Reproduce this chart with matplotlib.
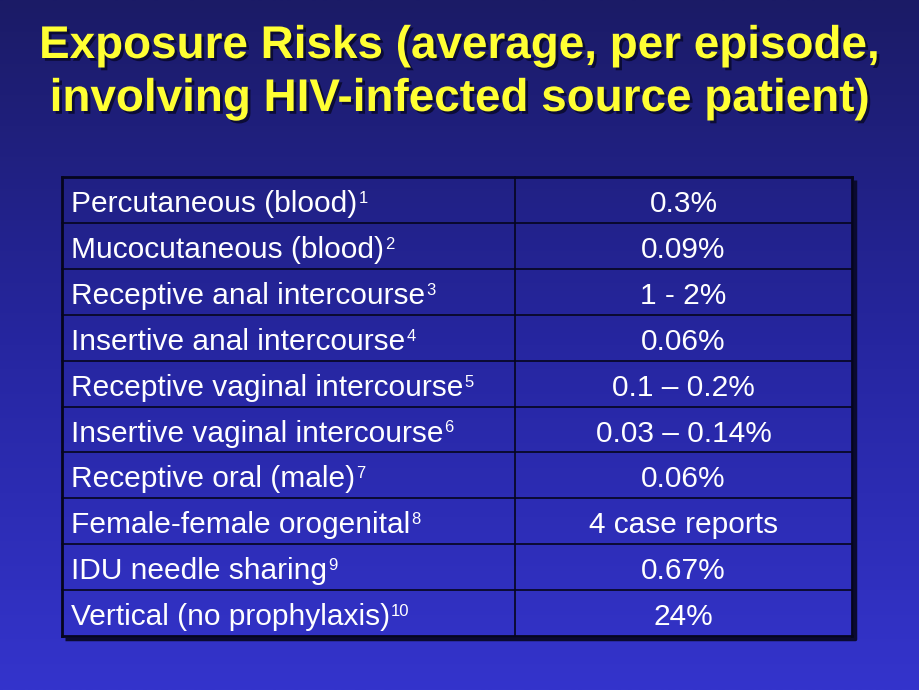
import matplotlib
matplotlib.use("Agg")
import matplotlib.pyplot as plt
import numpy as np
import matplotlib.patheffects as pe
from matplotlib.colors import LinearSegmentedColormap

title_lines = ["Exposure Risks (average, per episode,",
               "involving HIV-infected source patient)"]
exposures = ["Percutaneous (blood)", "Mucocutaneous (blood)", "Receptive anal intercourse",
             "Insertive anal intercourse", "Receptive vaginal intercourse",
             "Insertive vaginal intercourse", "Receptive oral (male)",
             "Female-female orogenital", "IDU needle sharing", "Vertical (no prophylaxis)"]
refs = ["1", "2", "3", "4", "5", "6", "7", "8", "9", "10"]
risks = ["0.3%", "0.09%", "1 - 2%", "0.06%", "0.1 \u2013 0.2%", "0.03 \u2013 0.14%",
         "0.06%", "4 case reports", "0.67%", "24%"]

W, H = 920, 690
fig = plt.figure(figsize=(W / 100, H / 100), dpi=100)
ax = fig.add_axes([0, 0, 1, 1])
ax.set_xlim(0, W)
ax.set_ylim(H, 0)
ax.axis("off")

cmap = LinearSegmentedColormap.from_list("bg", ["#1b1b66", "#2626a0", "#3434cc"])
grad = np.linspace(0, 1, 256).reshape(-1, 1)
ax.imshow(grad, cmap=cmap, extent=[0, W, H, 0], aspect="auto", zorder=0)

font = "Liberation Sans"
shadow = [pe.withSimplePatchShadow(offset=(2, -2), shadow_rgbFace="#0a0a30", alpha=0.9)]
for i, line in enumerate(title_lines):
    ax.text(460, 46 + i * 53, line, ha="center", va="center", fontsize=33,
            fontweight="bold", color="#ffff33", family=font, path_effects=shadow, zorder=5)

left, right, mid = 62, 852, 515
top, bottom = 177, 636
n = len(exposures)
rh = (bottom - top) / n

# table shadow
ax.plot([left + 3, right + 3, right + 3], [bottom + 3, bottom + 3, top + 3],
        color="#0a0a30", lw=2.5, zorder=2, solid_capstyle="butt")
# grid
for i in range(n + 1):
    y = top + i * rh
    lw = 2 if i in (0, n) else 1.2
    ax.plot([left, right], [y, y], color="#05051e", lw=lw, zorder=3)
for x in (left, mid, right):
    ax.plot([x, x], [top, bottom], color="#05051e", lw=2 if x != mid else 1.2, zorder=3)

fig.canvas.draw()
renderer = fig.canvas.get_renderer()
inv = ax.transData.inverted()
for i, (lab, r, v) in enumerate(zip(exposures, refs, risks)):
    ybase = top + i * rh + 35
    t = ax.text(71, ybase, lab, ha="left", va="baseline", fontsize=21.5,
                color="white", family=font, zorder=4)
    bb = t.get_window_extent(renderer)
    x1 = inv.transform((bb.x1, bb.y1))[0]
    ax.text(x1 + 1, ybase - 9, r, ha="left", va="baseline", fontsize=12,
            color="white", family=font, zorder=4)
    ax.text((mid + right) / 2, ybase, v, ha="center", va="baseline", fontsize=21.5,
            color="white", family=font, zorder=4)

fig.savefig("out.png", dpi=100)
